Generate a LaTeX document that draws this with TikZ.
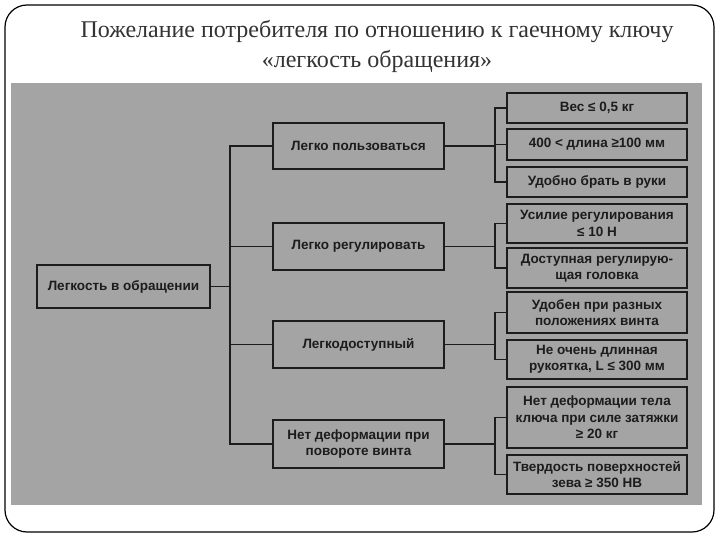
\documentclass[tikz,border=0pt]{standalone}
\usepackage{fontspec}
\setmainfont{Liberation Serif}
\newfontfamily\boxfont{Liberation Sans}
\usetikzlibrary{positioning}
\definecolor{scan}{HTML}{A4A4A4}
\definecolor{ink}{HTML}{1C1C1C}
\tikzset{
  box/.style={draw=ink, line width=1.6pt, fill=scan, inner sep=1pt, outer sep=0pt,
    align=center, text=ink, font=\boxfont\bfseries\fontsize{13.5}{16.5}\selectfont},
  lvlone/.style={box, minimum width=173pt},
  lvltwo/.style={box, minimum width=171pt},
  lvlthree/.style={box, minimum width=180pt},
  conn/.style={draw=ink, line width=1.3pt}
}
\begin{document}
\begin{tikzpicture}[x=1pt,y=-1pt]
\useasboundingbox (0,0) rectangle (720,540);
\fill[white] (0,0) rectangle (720,540);
% slide frame
\draw[line width=1.2pt, rounded corners=22pt] (5,5) rectangle (714,532);
% title
\node[align=center, text=black!80, font=\fontsize{24}{30}\selectfont] (title) at (377,46)
  {Пожелание потребителя по отношению к гаечному ключу\\«легкость обращения»};
% scanned area
\fill[scan] (11,83) rectangle (702,505);

% root
\node[lvlone, minimum height=43pt] (root) at (123.5,286.5) {Легкость в обращении};
% level 2
\node[lvltwo, minimum height=46pt] (a) at (358.5,146) {Легко пользоваться};
\node[lvltwo, minimum height=47pt] (b) at (358.5,246.5) {Легко регулировать};
\node[lvltwo, minimum height=47pt] (c) at (358.5,344.5) {Легкодоступный};
\node[lvltwo, minimum height=48pt] (d) at (358.5,444) {Нет деформации при\\повороте винта};
% level 3
\node[lvlthree, minimum height=30pt] (a1) at (597,108) {Вес ≤ 0,5 кг};
\node[lvlthree, minimum height=31pt] (a2) at (597,144.5) {400 < длина ≥100 мм};
\node[lvlthree, minimum height=30pt] (a3) at (597,182) {Удобно брать в руки};
\node[lvlthree, minimum height=39pt] (b1) at (597,223.5) {Усилие регулирования\\≤ 10 Н};
\node[lvlthree, minimum height=40pt] (b2) at (597,268) {Доступная регулирую-\\щая головка};
\node[lvlthree, minimum height=41pt] (c1) at (597,312.5) {Удобен при разных\\положениях винта};
\node[lvlthree, minimum height=39pt] (c2) at (597,359.5) {Не очень длинная\\рукоятка, L ≤ 300 мм};
\node[lvlthree, minimum height=61pt] (d1) at (597,417.5) {Нет деформации тела\\ключа при силе затяжки\\≥ 20 кг};
\node[lvlthree, minimum height=39pt] (d2) at (597,474.5) {Твердость поверхностей\\зева ≥ 350 НВ};

% trunk
\coordinate (t) at (230,286.5);
\draw[conn] (root.east) -- (t);
\draw[conn] (t) |- (a.west);
\draw[conn] (t) |- (b.west);
\draw[conn] (t) |- (c.west);
\draw[conn] (t) |- (d.west);
% brackets
\coordinate (ka) at (495,146);
\coordinate (kb) at (495,246.5);
\coordinate (kc) at (495,344.5);
\coordinate (kd) at (495,444);
\draw[conn] (a.east) -- (ka);
\draw[conn] (ka) |- (a1.west);
\draw[conn] (ka) |- (a2.west);
\draw[conn] (ka) |- (a3.west);
\draw[conn] (b.east) -- (kb);
\draw[conn] (kb) |- (b1.west);
\draw[conn] (kb) |- (b2.west);
\draw[conn] (c.east) -- (kc);
\draw[conn] (kc) |- (c1.west);
\draw[conn] (kc) |- (c2.west);
\draw[conn] (d.east) -- (kd);
\draw[conn] (kd) |- (d1.west);
\draw[conn] (kd) |- (d2.west);
\end{tikzpicture}
\end{document}
